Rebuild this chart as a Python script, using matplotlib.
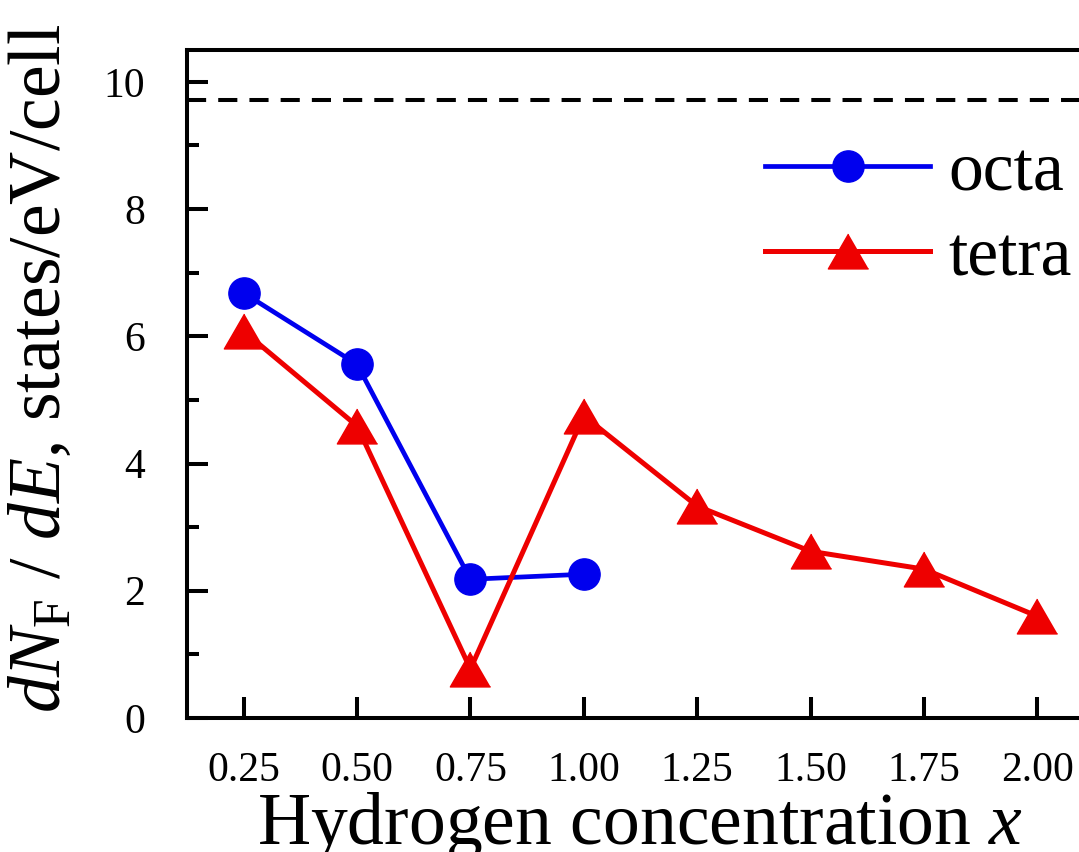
import matplotlib
matplotlib.use("Agg")
import matplotlib.pyplot as plt
import numpy as np

# data
x_octa = [0.25, 0.50, 0.75, 1.00]
dos_octa = [6.68, 5.56, 2.18, 2.26]
x_tetra = [0.25, 0.50, 0.75, 1.00, 1.25, 1.50, 1.75, 2.00]
dos_tetra = [6.08, 4.59, 0.77, 4.75, 3.33, 2.62, 2.34, 1.60]
dos_pure = 9.72  # dashed reference level
xticks = [0.25, 0.50, 0.75, 1.00, 1.25, 1.50, 1.75, 2.00]
yticks = [0, 2, 4, 6, 8, 10]

plt.rcParams['font.family'] = ['Liberation Serif', 'DejaVu Serif']
plt.rcParams['mathtext.fontset'] = 'custom'
plt.rcParams['mathtext.rm'] = 'Liberation Serif'
plt.rcParams['mathtext.it'] = 'Liberation Serif:italic'

blue = '#0000EE'
red = '#EE0000'
# triangle centred on its bounding box, equilateral
tri = [(0, 1), (-1.155, -1), (1.155, -1)]

fig = plt.figure(figsize=(10.79, 8.52), dpi=100)
ax = fig.add_axes([0.1733, 0.1573, 0.8406, 0.784])

ax.axhline(dos_pure, color='black', lw=2.9, linestyle=(0, (4.75, 3)))
ax.plot(x_octa, dos_octa, color=blue, lw=3.4, marker='o', ms=22.5,
        mfc=blue, mec=blue, mew=1, label='octa')
ax.plot(x_tetra, dos_tetra, color=red, lw=3.6, marker=tri, ms=29,
        mfc=red, mec=red, mew=1, label='tetra')

ax.set_xlim(0.125, 2.125)
ax.set_ylim(0, 10.5)
ax.set_xticks(xticks)
ax.set_xticklabels(['%.2f' % v for v in xticks])
ax.set_yticks(yticks)
ax.set_yticks(np.arange(1, 11, 2), minor=True)

for s in ax.spines.values():
    s.set_linewidth(2.9)
ax.tick_params(axis='both', which='major', direction='in', length=15,
               width=2.9, labelsize=30)
ax.tick_params(axis='y', which='major', pad=30)
ax.tick_params(axis='x', which='major', pad=24)
ax.tick_params(axis='y', which='minor', direction='in', length=8.6, width=2.9)
ax.tick_params(top=False, right=False)

ax.set_xlabel('Hydrogen concentration $x$', fontsize=53, labelpad=0)
ax.set_ylabel(r'$dN_{\mathrm{F}}$ / $dE$, states/eV/cell', fontsize=53)
ax.yaxis.set_label_coords(-0.122, 0.524)

leg = ax.legend(loc='center left', bbox_to_anchor=(0.709, 0.7465),
                bbox_transform=fig.transFigure, frameon=False, fontsize=50,
                handlelength=2.38, handletextpad=0.26, labelspacing=0.31,
                borderpad=0, borderaxespad=0)

fig.savefig('out.png', dpi=100)
